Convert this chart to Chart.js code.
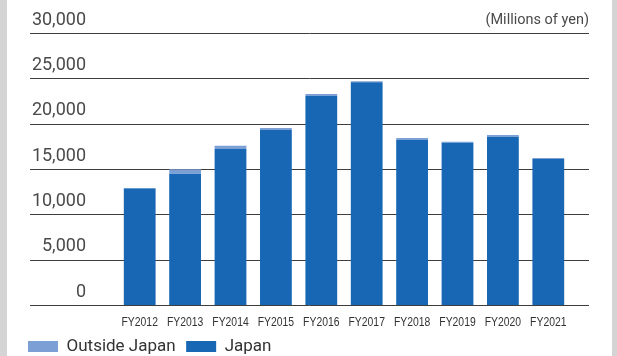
<!DOCTYPE html>
<html>
<head>
<meta charset="utf-8">
<script src="https://cdn.jsdelivr.net/npm/chart.js@4.4.1/dist/chart.umd.min.js"></script>
<style>
  html, body { margin: 0; padding: 0; background: #fff; overflow: hidden; }
  body { width: 617px; height: 356px; position: relative; }
  .strip { position: absolute; top: 0; bottom: 0; background: #d4d4d4; }
  #wrap { position: absolute; left: 7px; top: 0; width: 605px; height: 365px; }
</style>
</head>
<body>
<div class="strip" style="left:0;width:7px"></div>
<div class="strip" style="left:612px;width:5px"></div>
<div id="wrap"><canvas id="salesChart"></canvas></div>
<script>
const years = ['FY2012', 'FY2013', 'FY2014', 'FY2015', 'FY2016', 'FY2017', 'FY2018', 'FY2019', 'FY2020', 'FY2021'];
const japan = [12850, 14480, 17200, 19300, 23050, 24560, 18200, 17900, 18560, 16100];
const outsideJapan = [60, 490, 360, 220, 220, 110, 220, 110, 190, 110];
const yTicks = [0, 5000, 10000, 15000, 20000, 25000, 30000];
const unitLabel = '(Millions of yen)';

const DARK_BLUE = '#1767b4';
const LIGHT_BLUE = '#7c9fd6';
const TEXT_FONT = 'Roboto, "Liberation Sans", sans-serif';

// horizontal rules run wider than the plot, under the value labels
const ruleLines = {
  id: 'ruleLines',
  beforeDatasetsDraw(chart) {
    const { ctx } = chart;
    const y = chart.scales.y;
    const x0 = 23, x1 = 582;
    ctx.save();
    ctx.strokeStyle = '#3e3e3e';
    ctx.lineWidth = 1;
    yTicks.forEach(v => {
      const py = Math.round(y.getPixelForValue(v)) + 0.5;
      ctx.beginPath();
      ctx.moveTo(x0, py);
      ctx.lineTo(x1, py);
      ctx.stroke();
    });
    ctx.font = '14.5px ' + TEXT_FONT;
    ctx.fillStyle = '#4a4a4a';
    ctx.textAlign = 'right';
    ctx.textBaseline = 'middle';
    ctx.fillText(unitLabel, x1, y.getPixelForValue(30000) - 13);
    ctx.restore();
  }
};

// year labels in a narrow face, squeezed horizontally
const yearLabels = {
  id: 'yearLabels',
  afterDraw(chart) {
    const { ctx, chartArea } = chart;
    const x = chart.scales.x;
    ctx.save();
    ctx.font = '13px "Liberation Sans", Arial, sans-serif';
    ctx.fillStyle = '#333';
    ctx.textAlign = 'center';
    ctx.textBaseline = 'middle';
    years.forEach((label, i) => {
      ctx.save();
      ctx.translate(x.getPixelForValue(i), chartArea.bottom + 17);
      ctx.scale(0.8, 1);
      ctx.fillText(label, 0, 0);
      ctx.restore();
    });
    ctx.restore();
  }
};

new Chart(document.getElementById('salesChart'), {
  type: 'bar',
  data: {
    labels: years,
    datasets: [
      { label: 'Japan', data: japan, backgroundColor: DARK_BLUE, borderWidth: 0 },
      { label: 'Outside Japan', data: outsideJapan, backgroundColor: LIGHT_BLUE, borderWidth: 0 }
    ]
  },
  options: {
    responsive: true,
    maintainAspectRatio: false,
    animation: false,
    locale: 'en-US',
    layout: { padding: { top: 33, right: 41, left: 10.5, bottom: 0 } },
    datasets: { bar: { categoryPercentage: 1, barPercentage: 0.7 } },
    plugins: {
      tooltip: { enabled: false },
      legend: {
        position: 'bottom',
        align: 'start',
        reverse: true,
        labels: {
          boxWidth: 30,
          boxHeight: 11,
          padding: 10.5,
          color: '#333',
          font: { family: TEXT_FONT, size: 17 }
        }
      }
    },
    scales: {
      x: {
        stacked: true,
        grid: { display: false },
        border: { display: false },
        ticks: { display: false },
        afterFit(scale) { scale.height = 22.5; }
      },
      y: {
        stacked: true,
        min: 0,
        max: 30000,
        grid: { display: false, drawTicks: false },
        border: { display: false },
        ticks: {
          stepSize: 5000,
          padding: 31,
          labelOffset: -13,
          color: '#4a4a4a',
          font: { family: TEXT_FONT, size: 18 }
        },
        afterFit(scale) {
          scale.width = 99.5;
          scale.paddingTop = 0;
        }
      }
    }
  },
  plugins: [ruleLines, yearLabels]
});
</script>
</body>
</html>
